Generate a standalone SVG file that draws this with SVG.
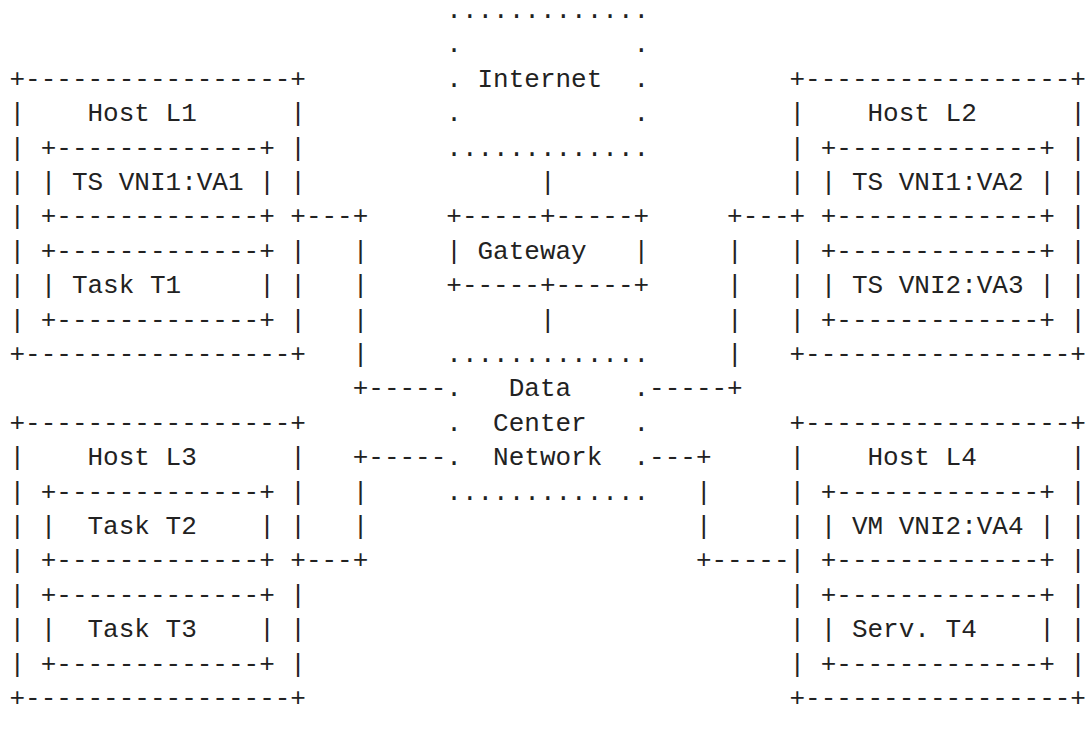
<svg xmlns="http://www.w3.org/2000/svg" width="1086" height="729" viewBox="0 0 1086 729">
<style>
text{font-family:"Liberation Mono","DejaVu Sans Mono",monospace;font-size:26px;fill:#222;white-space:pre}
</style>
<rect width="1086" height="729" fill="#fff"/>
<g id="internet">
<text x="446.3" y="18">.............</text>
<text x="446.3" y="52.4">.           .</text>
<text x="446.3" y="86.8">. Internet  .</text>
<text x="446.3" y="121.2">.           .</text>
<text x="446.3" y="155.6">.............</text>
</g>
<g id="gateway">
<text x="446.3" y="224.4">+-----+-----+</text>
<text x="446.3" y="258.8">| Gateway   |</text>
<text x="446.3" y="293.2">+-----+-----+</text>
</g>
<g id="dcn">
<text x="446.3" y="362">.............</text>
<text x="446.3" y="396.4">.   Data    .</text>
<text x="446.3" y="430.8">.  Center   .</text>
<text x="446.3" y="465.2">.  Network  .</text>
<text x="446.3" y="499.6">.............</text>
</g>
<g id="hostL1">
<text x="9.5" y="86.8">+-----------------+</text>
<text x="9.5" y="121.2">|    Host L1      |</text>
<text x="9.5" y="155.6">| +-------------+ |</text>
<text x="9.5" y="190">| | TS VNI1:VA1 | |</text>
<text x="9.5" y="224.4">| +-------------+ +</text>
<text x="9.5" y="258.8">| +-------------+ |</text>
<text x="9.5" y="293.2">| | Task T1     | |</text>
<text x="9.5" y="327.6">| +-------------+ |</text>
<text x="9.5" y="362">+-----------------+</text>
</g>
<g id="hostL2">
<text x="789.5" y="86.8">+-----------------+</text>
<text x="789.5" y="121.2">|    Host L2      |</text>
<text x="789.5" y="155.6">| +-------------+ |</text>
<text x="789.5" y="190">| | TS VNI1:VA2 | |</text>
<text x="789.5" y="224.4">+ +-------------+ |</text>
<text x="789.5" y="258.8">| +-------------+ |</text>
<text x="789.5" y="293.2">| | TS VNI2:VA3 | |</text>
<text x="789.5" y="327.6">| +-------------+ |</text>
<text x="789.5" y="362">+-----------------+</text>
</g>
<g id="hostL3">
<text x="9.5" y="430.8">+-----------------+</text>
<text x="9.5" y="465.2">|    Host L3      |</text>
<text x="9.5" y="499.6">| +-------------+ |</text>
<text x="9.5" y="534">| |  Task T2    | |</text>
<text x="9.5" y="568.4">| +-------------+ +</text>
<text x="9.5" y="602.8">| +-------------+ |</text>
<text x="9.5" y="637.2">| |  Task T3    | |</text>
<text x="9.5" y="671.6">| +-------------+ |</text>
<text x="9.5" y="706">+-----------------+</text>
</g>
<g id="hostL4">
<text x="789.5" y="430.8">+-----------------+</text>
<text x="789.5" y="465.2">|    Host L4      |</text>
<text x="789.5" y="499.6">| +-------------+ |</text>
<text x="789.5" y="534">| | VM VNI2:VA4 | |</text>
<text x="789.5" y="568.4">| +-------------+ |</text>
<text x="789.5" y="602.8">| +-------------+ |</text>
<text x="789.5" y="637.2">| | Serv. T4    | |</text>
<text x="789.5" y="671.6">| +-------------+ |</text>
<text x="789.5" y="706">+-----------------+</text>
</g>
<g id="connectors">
<text x="539.9" y="190">|</text>
<text x="539.9" y="327.6">|</text>
<text x="305.9" y="224.4">---+</text>
<text x="352.7" y="258.8">|</text>
<text x="352.7" y="293.2">|</text>
<text x="352.7" y="327.6">|</text>
<text x="352.7" y="362">|</text>
<text x="352.7" y="396.4">+-----</text>
<text x="727.1" y="224.4">+---</text>
<text x="727.1" y="258.8">|</text>
<text x="727.1" y="293.2">|</text>
<text x="727.1" y="327.6">|</text>
<text x="727.1" y="362">|</text>
<text x="649.1" y="396.4">-----+</text>
<text x="352.7" y="465.2">+-----</text>
<text x="352.7" y="499.6">|</text>
<text x="352.7" y="534">|</text>
<text x="305.9" y="568.4">---+</text>
<text x="649.1" y="465.2">---+</text>
<text x="695.9" y="499.6">|</text>
<text x="695.9" y="534">|</text>
<text x="695.9" y="568.4">+-----</text>
</g>
</svg>
